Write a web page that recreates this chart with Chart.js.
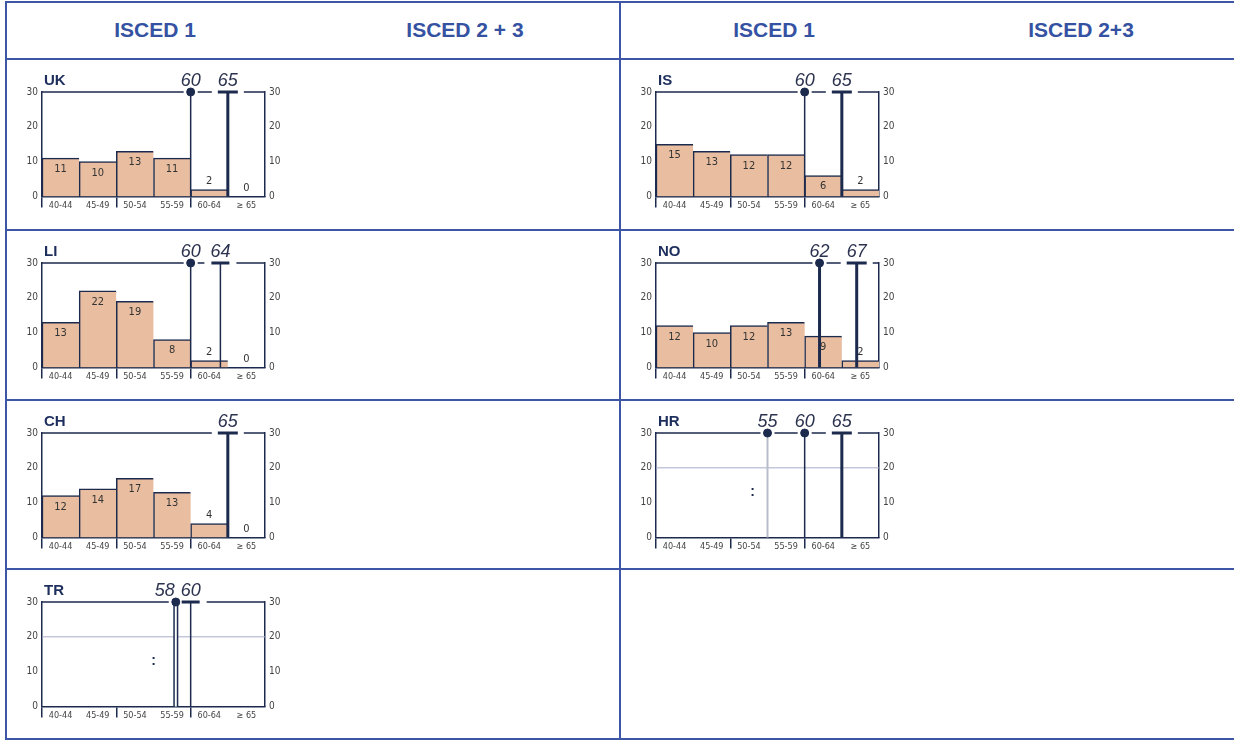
<!DOCTYPE html>
<html>
<head>
<meta charset="utf-8">
<script src="https://cdn.jsdelivr.net/npm/chart.js@4.4.0/dist/chart.umd.min.js"></script>
<style>
  html, body { margin: 0; padding: 0; background: #fff; }
  body { width: 1234px; height: 740px; position: relative; overflow: hidden; font-family: "Liberation Sans", Arial, sans-serif; }
  .hl { position: absolute; height: 2px; background: #3d56a5; }
  .vl { position: absolute; width: 2px; background: #3d56a5; }
  .head { position: absolute; top: 18px; width: 240px; margin-left: -120px; text-align: center; font-weight: bold; font-size: 21px; line-height: 24px; color: #3552a2; }
  canvas { position: absolute; }
</style>
</head>
<body>
<!-- table frame -->
<div class="hl" style="left:5px;top:1px;width:1229px"></div>
<div class="hl" style="left:5px;top:58px;width:1229px"></div>
<div class="hl" style="left:5px;top:229px;width:1229px"></div>
<div class="hl" style="left:5px;top:399px;width:1229px"></div>
<div class="hl" style="left:5px;top:568px;width:1229px"></div>
<div class="hl" style="left:5px;top:738px;width:1229px"></div>
<div class="vl" style="left:5px;top:1px;height:739px"></div>
<div class="vl" style="left:619px;top:1px;height:739px"></div>

<div class="head" style="left:155px">ISCED 1</div>
<div class="head" style="left:465px">ISCED 2 + 3</div>
<div class="head" style="left:774px">ISCED 1</div>
<div class="head" style="left:1081px">ISCED 2+3</div>

<canvas id="uk" width="290" height="165" style="left:14px;top:64px"></canvas>
<canvas id="li" width="290" height="165" style="left:14px;top:235px"></canvas>
<canvas id="ch" width="290" height="165" style="left:14px;top:405px"></canvas>
<canvas id="tr" width="290" height="165" style="left:14px;top:574px"></canvas>
<canvas id="is" width="290" height="165" style="left:628px;top:64px"></canvas>
<canvas id="no" width="290" height="165" style="left:628px;top:235px"></canvas>
<canvas id="hr" width="290" height="165" style="left:628px;top:405px"></canvas>

<script>
// age groups (x axis) and y axis range
const ageGroups = ['40-44', '45-49', '50-54', '55-59', '60-64', '≥ 65'];
const ageRange = [40, 70];
const shareMax = 30;
const shareStep = 10;

// % of teachers per age group
const ukShares = [11, 10, 13, 11, 2, 0];
const isShares = [15, 13, 12, 12, 6, 2];
const liShares = [13, 22, 19, 8, 2, 0];
const noShares = [12, 10, 12, 13, 9, 2];
const chShares = [12, 14, 17, 13, 4, 0];

// retirement ages and their kind
const ukRetireAges = [60, 65];
const ukRetireKinds = ['min', 'official'];
const isRetireAges = [60, 65];
const isRetireKinds = ['min', 'official'];
const liRetireAges = [60, 64];
const liRetireKinds = ['min', 'officialThin'];
const noRetireAges = [62, 67];
const noRetireKinds = ['minWide', 'official'];
const chRetireAges = [65];
const chRetireKinds = ['official'];
const hrRetireAges = [55, 60, 65];
const hrRetireKinds = ['minGrey', 'min', 'official'];
const trRetireAges = [58, 60];
const trRetireKinds = ['minDouble', 'officialThin'];

// "data not available" reference line and marker
const noDataLevel = 20;
const hrNoDataAt = [53, 13];
const trNoDataAt = [55, 13];

const NAVY = '#1c2a4e';
const FILL = '#e9bea0';
const TXT = '#444';
const CONDENSED = '"DejaVu Sans Condensed", "DejaVu Sans", sans-serif';

const markerStyle = {
  min:          { color: NAVY, width: 1.5, point: 'circle', r: 4 },
  minWide:      { color: NAVY, width: 3, point: 'circle', r: 4 },
  minGrey:      { color: '#b9bccb', width: 2, point: 'circle', r: 4 },
  minDouble:    { color: NAVY, width: 5, point: 'circle', r: 4, hollow: true },
  official:     { color: NAVY, width: 3, point: 'line', r: 10 },
  officialThin: { color: NAVY, width: 1.5, point: 'line', r: 9 },
};

const panelPlugin = {
  id: 'panel',
  beforeDatasetsDraw(chart) {
    const { ctx, chartArea: a, scales } = chart;
    const o = chart.options.plugins.panel;
    // top line at 30, broken round the markers
    const gaps = o.ages.map((age, i) => {
      const px = scales.xAge.getPixelForValue(age);
      const half = markerStyle[o.kinds[i]].point === 'line' ? 16 : 7;
      return [px - half, px + half];
    }).sort((p, q) => p[0] - q[0]);
    const yTop = scales.y.getPixelForValue(shareMax);
    ctx.save();
    ctx.strokeStyle = NAVY;
    ctx.lineWidth = 1.5;
    let start = a.left;
    ctx.beginPath();
    for (const [g0, g1] of gaps) {
      if (g0 > start) { ctx.moveTo(start, yTop); ctx.lineTo(g0, yTop); }
      start = Math.max(start, g1);
    }
    if (start < a.right) { ctx.moveTo(start, yTop); ctx.lineTo(a.right, yTop); }
    ctx.stroke();
    ctx.restore();
  },
  afterDatasetsDraw(chart) {
    const { ctx, chartArea: a, scales } = chart;
    const o = chart.options.plugins.panel;
    ctx.save();
    // bar value labels
    if (o.shares) {
      const meta = chart.getDatasetMeta(0);
      ctx.font = '11px ' + CONDENSED;
      ctx.fillStyle = '#333';
      ctx.textAlign = 'center';
      ctx.textBaseline = 'middle';
      meta.data.forEach((el, i) => {
        const v = o.shares[i];
        ctx.fillText(String(v), el.x, v >= 5 ? el.y + 11 : el.y - 8);
      });
    }
    // no data
    if (o.noData) {
      ctx.font = 'bold 14px "Liberation Sans", sans-serif';
      ctx.fillStyle = NAVY;
      ctx.textAlign = 'center';
      ctx.textBaseline = 'middle';
      ctx.fillText(':', scales.xAge.getPixelForValue(o.noData[0]), scales.y.getPixelForValue(o.noData[1]));
    }
    // country code
    ctx.font = 'bold 15px "Liberation Sans", Arial, sans-serif';
    ctx.fillStyle = '#1d2d5c';
    ctx.textAlign = 'left';
    ctx.textBaseline = 'alphabetic';
    ctx.fillText(o.code, a.left + 2, a.top - 7);
    // retirement age numbers (pushed apart when they crowd)
    ctx.font = 'italic 18px "Liberation Sans", Arial, sans-serif';
    ctx.fillStyle = '#2c3350';
    ctx.textAlign = 'center';
    const px = o.ages.map(age => scales.xAge.getPixelForValue(age));
    px.forEach((x, i) => {
      let lx = x;
      if (i + 1 < px.length && px[i + 1] - x < 24) lx -= 11;
      ctx.fillText(String(o.ages[i]), lx, a.top - 6);
    });
    ctx.restore();
  }
};

function makePanel(id, code, shares, ages, kinds, noData) {
  const datasets = [];
  if (shares) {
    datasets.push({
      type: 'bar', xAxisID: 'x', yAxisID: 'y', data: shares,
      backgroundColor: FILL, borderColor: NAVY,
      borderWidth: { top: 1.5, left: 1.5, right: 0, bottom: 0 }, borderSkipped: false,
      grouped: false, categoryPercentage: 1, barPercentage: 1, order: 5,
    });
  }
  if (noData) {
    datasets.push({
      type: 'line', xAxisID: 'xAge', yAxisID: 'y',
      data: [{ x: ageRange[0], y: noDataLevel }, { x: ageRange[1], y: noDataLevel }],
      borderColor: '#a7abc6', borderWidth: 1, pointRadius: 0, order: 6,
    });
  }
  ages.forEach((age, i) => {
    const s = markerStyle[kinds[i]];
    const line = [{ x: age, y: 0 }, { x: age, y: shareMax }];
    datasets.push({
      type: 'line', xAxisID: 'xAge', yAxisID: 'y', data: line,
      borderColor: s.color, borderWidth: s.width, pointRadius: 0, clip: false, order: 3,
    });
    if (s.hollow) {
      datasets.push({
        type: 'line', xAxisID: 'xAge', yAxisID: 'y', data: line,
        borderColor: '#fff', borderWidth: 2, pointRadius: 0, clip: false, order: 2,
      });
    }
    datasets.push({
      type: 'line', xAxisID: 'xAge', yAxisID: 'y', data: [{ x: age, y: shareMax }],
      showLine: false, pointStyle: s.point, pointRadius: s.r,
      pointBackgroundColor: NAVY, pointBorderColor: NAVY,
      pointBorderWidth: s.point === 'line' ? 3 : 1, clip: false, order: 1,
    });
  });

  const tickFont = { family: CONDENSED, size: 10 };
  const yAxis = (pos, w) => ({
    type: 'linear', position: pos, min: 0, max: shareMax,
    grid: { display: false, drawTicks: false },
    border: { display: true, color: NAVY, width: 1.5 },
    ticks: { stepSize: shareStep, color: TXT, font: tickFont, padding: 4 },
    afterFit(scale) { scale.width = w; },
  });

  return new Chart(document.getElementById(id), {
    type: 'bar',
    data: { labels: ageGroups, datasets },
    options: {
      responsive: false,
      animation: false,
      layout: { padding: { top: 28, right: 13, bottom: 10.5, left: 0 } },
      plugins: {
        legend: { display: false },
        tooltip: { enabled: false },
        panel: { code, shares, ages, kinds, noData },
      },
      scales: {
        x: {
          type: 'category', position: 'bottom', offset: true,
          grid: {
            display: true, offset: true, drawOnChartArea: false, drawTicks: true, tickLength: 11,
            lineWidth: 1.5,
            color: c => (c.index % 2 === 0 ? NAVY : 'rgba(0,0,0,0)'),
          },
          border: { display: true, color: NAVY, width: 1.5 },
          ticks: { color: TXT, font: { family: CONDENSED, size: 9 }, padding: -7, autoSkip: false, maxRotation: 0 },
          afterFit(scale) { scale.height = 22; },
        },
        xAge: { type: 'linear', axis: 'x', display: false, min: ageRange[0], max: ageRange[1], offset: false },
        y: yAxis('left', 28),
        y2: yAxis('right', 26),
      },
    },
    plugins: [panelPlugin],
  });
}

makePanel('uk', 'UK', ukShares, ukRetireAges, ukRetireKinds, null);
makePanel('li', 'LI', liShares, liRetireAges, liRetireKinds, null);
makePanel('ch', 'CH', chShares, chRetireAges, chRetireKinds, null);
makePanel('tr', 'TR', null, trRetireAges, trRetireKinds, trNoDataAt);
makePanel('is', 'IS', isShares, isRetireAges, isRetireKinds, null);
makePanel('no', 'NO', noShares, noRetireAges, noRetireKinds, null);
makePanel('hr', 'HR', null, hrRetireAges, hrRetireKinds, hrNoDataAt);
</script>
</body>
</html>
